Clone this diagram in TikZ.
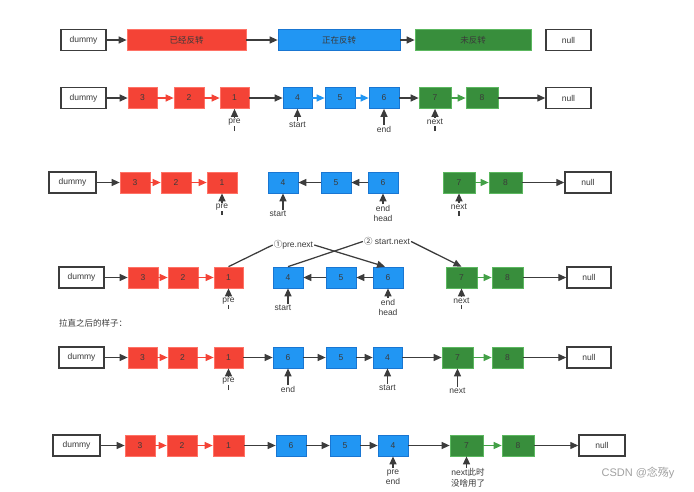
\documentclass[tikz,border=0pt]{standalone}
\usepackage{fontspec}
\setmainfont{Liberation Sans}
\newfontfamily\cjk{Noto Sans CJK SC}
\usetikzlibrary{arrows.meta}
\definecolor{myred}{HTML}{F44336}
\definecolor{myredb}{HTML}{FF7266}
\definecolor{myblue}{HTML}{2196F3}
\definecolor{mybluedk}{HTML}{1976D2}
\definecolor{mygreen}{HTML}{388E3C}
\definecolor{mygreenb}{HTML}{5CB860}
\definecolor{mygreenar}{HTML}{43A047}
\definecolor{txt}{HTML}{3A3A3A}
\definecolor{linec}{HTML}{3C3C3C}
\definecolor{wm}{HTML}{A0A0A0}
\tikzset{
  base/.style={rectangle, minimum height=21pt, inner sep=0pt, text=txt, font=\fontsize{8.5}{10}\selectfont},
  wbox/.style={base, draw=linec, line width=1.4pt, fill=white, minimum width=45pt},
  rbox/.style={base, fill=myred, draw=myredb, line width=0.7pt, minimum width=30pt},
  bbox/.style={base, fill=myblue, draw=mybluedk, line width=0.7pt, minimum width=30pt},
  gbox/.style={base, fill=mygreen, draw=mygreenb, line width=0.7pt, minimum width=32pt},
  ar/.style={draw=linec, line width=1.25pt, -{Triangle[length=8pt,width=7pt]}},
  rar/.style={ar, draw=myred, -{Triangle[length=8pt,width=7pt,fill=myred]}},
  bar/.style={ar, draw=myblue, -{Triangle[length=8pt,width=7pt,fill=myblue]}},
  gar/.style={ar, draw=mygreenar, -{Triangle[length=8pt,width=7pt,fill=mygreenar]}},
  lbl/.style={inner sep=1pt, text=txt, font=\fontsize{8.5}{10.5}\selectfont, align=center},
  lblw/.style={lbl, fill=white},
  ln/.style={draw=linec, line width=1.25pt},
}
\begin{document}
\begin{tikzpicture}[x=1pt,y=-1pt]
\useasboundingbox (0,0) rectangle (694,491);

% ---------- Row 1
\node[wbox] (a0) at (83.5,40) {dummy};
\node[rbox, minimum width=119] (a1) at (186.5,40) {\cjk 已经反转};
\node[bbox, minimum width=122] (a2) at (339,40) {\cjk 正在反转};
\node[gbox, minimum width=116] (a3) at (473,40) {\cjk 未反转};
\node[wbox] (a4) at (568.5,40) {null};
\draw[ar] (a0) -- (a1);
\draw[ar] (a1) -- (a2);
\draw[ar] (a2) -- (a3);

% ---------- Row 2
\node[wbox] (b0) at (83.5,98) {dummy};
\node[rbox, minimum width=29] (b3) at (142.5,98) {3};
\node[rbox, minimum width=30] (b2) at (189,98) {2};
\node[rbox, minimum width=29] (b1) at (234.5,98) {1};
\node[bbox, minimum width=29] (b4) at (297.5,98) {4};
\node[bbox, minimum width=30] (b5) at (340,98) {5};
\node[bbox, minimum width=30] (b6) at (384,98) {6};
\node[gbox, minimum width=32] (b7) at (435,98) {7};
\node[gbox, minimum width=32] (b8) at (482,98) {8};
\node[wbox] (b9) at (568.5,98) {null};
\draw[ar] (b0) -- (b3);
\draw[rar] (b3) -- (b2);
\draw[rar] (b2) -- (b1);
\draw[ar] (b1) -- (b4);
\draw[bar] (b4) -- (b5);
\draw[bar] (b5) -- (b6);
\draw[ar] (b6) -- (b7);
\draw[gar] (b7) -- (b8);
\draw[ar] (b8) -- (b9);
\coordinate (bpt) at (234.5,131);
\draw[ar] (bpt) -- (b1.south);
\node[lblw] (bpre) at (234.5,122) {pre};
\node[lbl] (bstart) at (297.5,125) {start};
\draw[ar] (bstart.north) -- (b4.south);
\node[lbl] (bend) at (384,129.5) {end};
\draw[ar] (bend.north) -- (b6.south);
\coordinate (bnt) at (435,131);
\draw[ar] (bnt) -- (b7.south);
\node[lblw] (bnext) at (435,122) {next};

% ---------- Row 3
\node[wbox, minimum width=47] (c0) at (72.5,182.5) {dummy};
\node[rbox] (c3) at (135,182.5) {3};
\node[rbox] (c2) at (176,182.5) {2};
\node[rbox] (c1) at (222,182.5) {1};
\node[bbox] (c4) at (283,182.5) {4};
\node[bbox] (c5) at (336,182.5) {5};
\node[bbox] (c6) at (383,182.5) {6};
\node[gbox] (c7) at (459,182.5) {7};
\node[gbox, minimum width=33] (c8) at (505.5,182.5) {8};
\node[wbox, minimum width=46] (c9) at (588,182.5) {null};
\draw[ar] (c0) -- (c3);
\draw[rar] (c3) -- (c2);
\draw[rar] (c2) -- (c1);
\draw[ar] (c5) -- (c4);
\draw[ar] (c6) -- (c5);
\draw[gar] (c7) -- (c8);
\draw[ar] (c8) -- (c9);
\coordinate (cpt) at (222,215);
\draw[ar] (cpt) -- (c1.south);
\node[lblw] (cpre) at (222,207) {pre};
\node[lbl] (cstart) at (278,214) {start};
\draw[ar] (cstart.north -| c4.south) -- (c4.south);
\node[lbl] (cend) at (383,213.5) {end\\head};
\draw[ar] (cend.north) -- (c6.south);
\coordinate (cnt) at (459,216);
\draw[ar] (cnt) -- (c7.south);
\node[lblw] (cnext) at (459,207) {next};

% ---------- Row 4
\node[wbox] (d0) at (81.5,277.5) {dummy};
\node[rbox] (d3) at (143,277.5) {3};
\node[rbox] (d2) at (183,277.5) {2};
\node[rbox, minimum width=29] (d1) at (228.5,277.5) {1};
\node[bbox] (d4) at (288,277.5) {4};
\node[bbox] (d5) at (341,277.5) {5};
\node[bbox] (d6) at (388,277.5) {6};
\node[gbox, minimum width=31] (d7) at (461.5,277.5) {7};
\node[gbox, minimum width=31] (d8) at (507.5,277.5) {8};
\node[wbox, minimum width=44] (d9) at (589,277.5) {null};
\draw[ar] (d0) -- (d3);
\draw[rar] (d3) -- (d2);
\draw[rar] (d2) -- (d1);
\draw[ar] (d5) -- (d4);
\draw[ar] (d6) -- (d5);
\draw[gar] (d7) -- (d8);
\draw[ar] (d8) -- (d9);
\node[lbl] (lone) at (293.5,245) {{\cjk ①}pre.next};
\node[lbl] (ltwo) at (387,241.5) {{\cjk ②} start.next};
\draw[ln] (d1.north) -- (lone.west);
\draw[ar] (lone.east) -- ([xshift=-3pt]d6.north);
\draw[ln] (d4.north) -- (ltwo.west);
\draw[ar] (ltwo.east) -- (d7.north);
\coordinate (dpt) at (228.5,309);
\draw[ar] (dpt) -- (d1.south);
\node[lblw] (dpre) at (228.5,301) {pre};
\node[lbl] (dstart) at (283,308) {start};
\draw[ar] (dstart.north -| d4.south) -- (d4.south);
\node[lbl] (dend) at (388,307.5) {end\\head};
\draw[ar] (dend.north) -- (d6.south);
\coordinate (dnt) at (461.5,309);
\draw[ar] (dnt) -- (d7.south);
\node[lblw] (dnext) at (461.5,301) {next};

\node[lbl, anchor=west, inner sep=0pt] (title) at (59,323) {\cjk 拉直之后的样子：};

% ---------- Row 5
\node[wbox] (e0) at (81.5,357.5) {dummy};
\node[rbox, minimum width=29] (e3) at (142.5,357.5) {3};
\node[rbox, minimum width=29] (e2) at (182.5,357.5) {2};
\node[rbox, minimum width=29] (e1) at (228.5,357.5) {1};
\node[bbox] (e6) at (288,357.5) {6};
\node[bbox] (e5) at (341,357.5) {5};
\node[bbox, minimum width=29] (e4) at (387.5,357.5) {4};
\node[gbox, minimum width=31] (e7) at (457.5,357.5) {7};
\node[gbox, minimum width=31] (e8) at (507.5,357.5) {8};
\node[wbox, minimum width=44] (e9) at (589,357.5) {null};
\draw[ar] (e0) -- (e3);
\draw[rar] (e3) -- (e2);
\draw[rar] (e2) -- (e1);
\draw[ar] (e1) -- (e6);
\draw[ar] (e6) -- (e5);
\draw[ar] (e5) -- (e4);
\draw[ar] (e4) -- (e7);
\draw[gar] (e7) -- (e8);
\draw[ar] (e8) -- (e9);
\coordinate (ept) at (228.5,390);
\draw[ar] (ept) -- (e1.south);
\node[lblw] (epre) at (228.5,381) {pre};
\node[lbl] (eend) at (288,389) {end};
\draw[ar] (eend.north) -- (e6.south);
\node[lbl] (estart) at (387.5,388) {start};
\draw[ar] (estart.north) -- (e4.south);
\node[lbl] (enext) at (457.5,391) {next};
\draw[ar] (enext.north) -- (e7.south);

% ---------- Row 6
\node[wbox, minimum width=47] (f0) at (76.5,445.5) {dummy};
\node[rbox] (f3) at (140,445.5) {3};
\node[rbox] (f2) at (182,445.5) {2};
\node[rbox, minimum width=31] (f1) at (228.5,445.5) {1};
\node[bbox] (f6) at (291,445.5) {6};
\node[bbox] (f5) at (345,445.5) {5};
\node[bbox] (f4) at (393,445.5) {4};
\node[gbox, minimum width=33] (f7) at (466.5,445.5) {7};
\node[gbox, minimum width=32] (f8) at (518,445.5) {8};
\node[wbox, minimum width=46] (f9) at (602,445.5) {null};
\draw[ar] (f0) -- (f3);
\draw[rar] (f3) -- (f2);
\draw[rar] (f2) -- (f1);
\draw[ar] (f1) -- (f6);
\draw[ar] (f6) -- (f5);
\draw[ar] (f5) -- (f4);
\draw[ar] (f4) -- (f7);
\draw[gar] (f7) -- (f8);
\draw[ar] (f8) -- (f9);
\node[lbl] (fpre) at (393,477) {pre\\end};
\draw[ar] (fpre.north) -- (f4.south);
\node[lbl] (fnext) at (468,478) {next{\cjk 此时}\\{\cjk 没啥用了}};
\draw[ar] (fnext.north -| f7.south) -- (f7.south);

\node[text=wm, font=\fontsize{11}{13}\selectfont, inner sep=0pt] (wmk) at (638,473) {CSDN @{\cjk 念殇}y};
\end{tikzpicture}
\end{document}
